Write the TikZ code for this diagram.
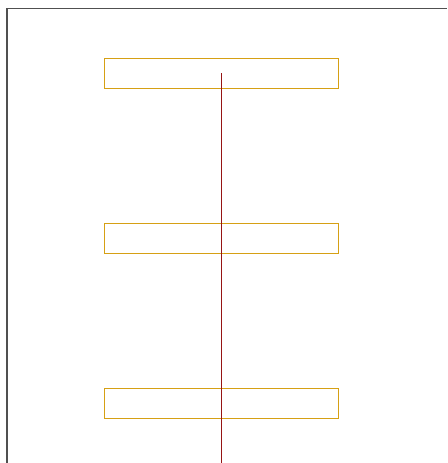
\documentclass[tikz,border=0pt]{standalone}
\usepackage{tikz}
\usetikzlibrary{positioning}
\usepackage{xcolor}
\definecolor{boxorange}{RGB}{214,160,20}
\definecolor{axisred}{RGB}{150,20,20}
\definecolor{framegray}{RGB}{80,80,80}

\begin{document}
\begin{tikzpicture}[x=1pt,y=-1pt,
    slab/.style={draw=boxorange, line width=0.9pt, minimum width=234pt, minimum height=30pt, inner sep=0pt}]
\useasboundingbox (0,0) rectangle (447,463);
\draw[framegray, line width=1.2pt] (7,463) -- (7,8.5) -- (447,8.5);
\foreach \n/\y in {1/73,2/238,3/403.5}
    \node[slab] (box\n) at (221,\y) {};
\coordinate (axisend) at (221,463);
\draw[axisred, line width=0.8pt] (box1.center) -- (axisend);
\end{tikzpicture}
\end{document}
